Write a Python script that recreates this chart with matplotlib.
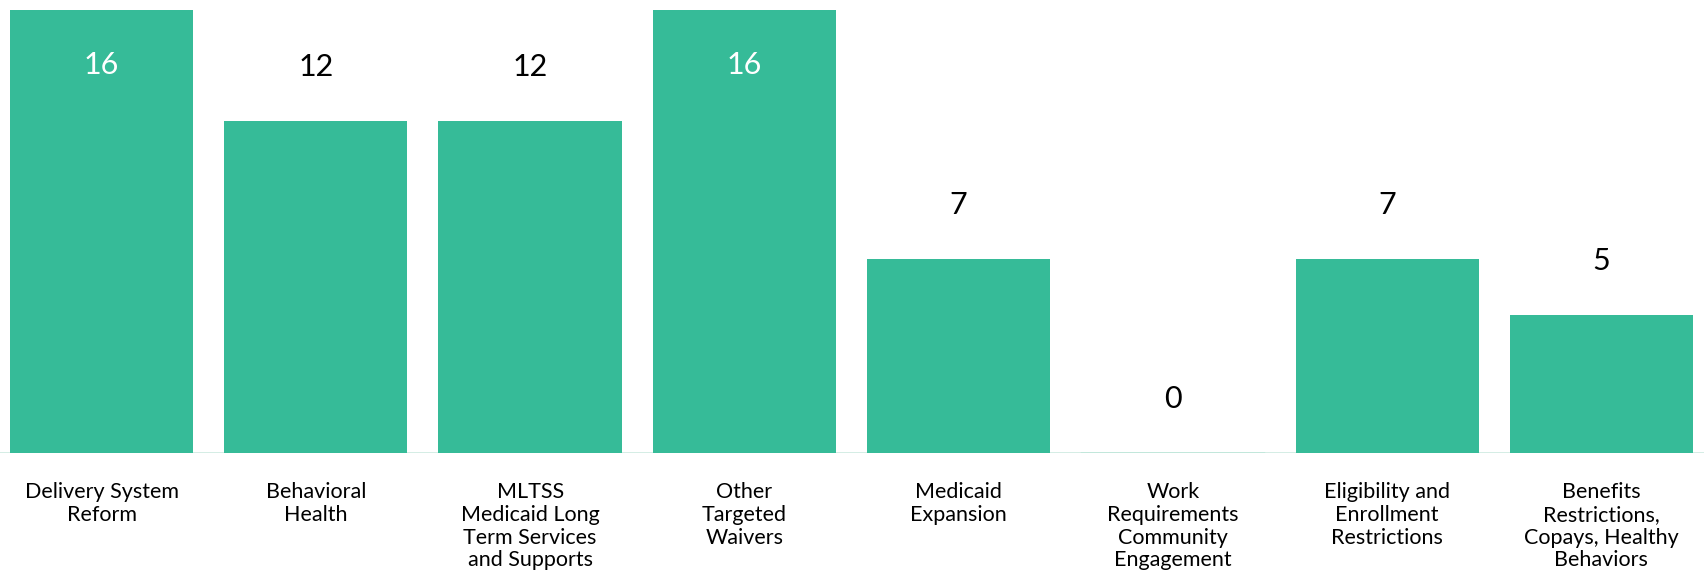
import matplotlib
matplotlib.use('Agg')
import matplotlib.pyplot as plt

plt.rcParams['font.family'] = ['Lato', 'DejaVu Sans']

categories = ["Delivery System\nReform",
              "Behavioral\nHealth",
              "MLTSS\nMedicaid Long\nTerm Services\nand Supports",
              "Other\nTargeted\nWaivers",
              "Medicaid\nExpansion",
              "Work\nRequirements\nCommunity\nEngagement",
              "Eligibility and\nEnrollment\nRestrictions",
              "Benefits\nRestrictions,\nCopays, Healthy\nBehaviors"]
counts = [16, 12, 12, 16, 7, 0, 7, 5]

GREEN = '#36bb98'
W = 0.855

fig = plt.figure(figsize=(17.04, 5.76), dpi=100)
ax = fig.add_axes([0, 0.2135, 1, 0.7865])

x = list(range(len(counts)))
ax.bar(x, counts, width=W, color=GREEN, linewidth=0)
ax.axhline(0, color='#cdeae0', lw=1.2, zorder=0)
ax.plot([5 - W / 2, 5 + W / 2], [0, 0], color=GREEN, lw=1, alpha=0.6)

ax.set_xlim(-0.474, 7.479)
ax.set_ylim(0, 16.36)
ax.axis('off')

for i, v in enumerate(counts):
    if v >= 15:
        ax.text(i, v - 2.0, str(v), ha='center', va='center',
                color='white', fontsize=22)
    else:
        ax.text(i, v + 1.95, str(v), ha='center', va='center',
                color='black', fontsize=22)
    ax.annotate(categories[i], xy=(i, 0), xytext=(0, -21),
                textcoords='offset points', ha='center', va='top',
                fontsize=15.5, linespacing=1.17, color='black')

fig.savefig('out.png', dpi=100)
